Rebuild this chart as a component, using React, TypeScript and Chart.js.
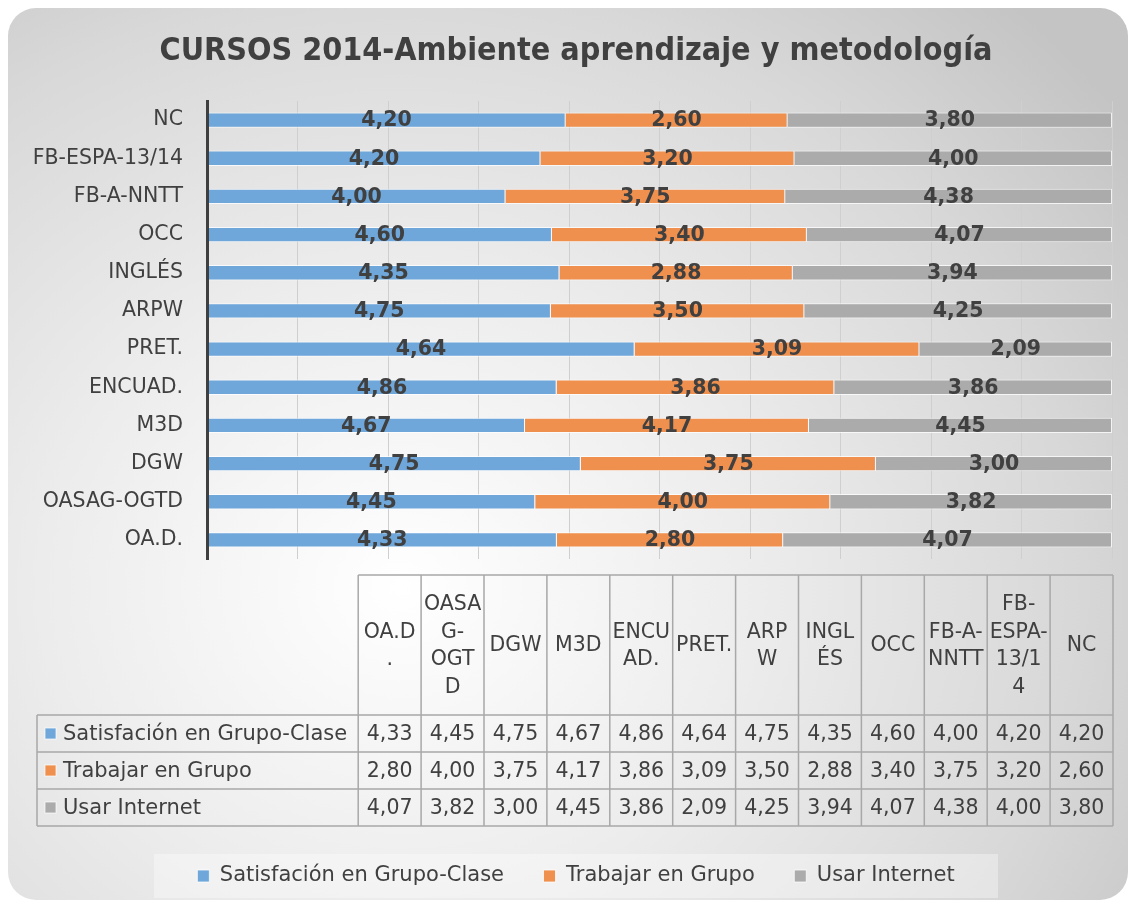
import React, { useEffect, useRef } from "react";
import { Chart, registerables } from "chart.js";

Chart.register(...registerables);

const categories = ["OA.D.", "OASAG-OGTD", "DGW", "M3D", "ENCUAD.", "PRET.", "ARPW", "INGLÉS", "OCC", "FB-A-NNTT", "FB-ESPA-13/14", "NC"];
const seriesNames = ["Satisfación en Grupo-Clase", "Trabajar en Grupo", "Usar Internet"];
const satisfaccion = [4.33, 4.45, 4.75, 4.67, 4.86, 4.64, 4.75, 4.35, 4.6, 4.0, 4.2, 4.2];
const trabajar = [2.8, 4.0, 3.75, 4.17, 3.86, 3.09, 3.5, 2.88, 3.4, 3.75, 3.2, 2.6];
const internet = [4.07, 3.82, 3.0, 4.45, 3.86, 2.09, 4.25, 3.94, 4.07, 4.38, 4.0, 3.8];
const seriesValues = [satisfaccion, trabajar, internet];
const seriesColors = ["#6FA7DB", "#F0904F", "#ABABAB"];
const titleText = "CURSOS 2014-Ambiente aprendizaje y metodología";

const TEXT = "#404040";
const fmt = (v: number) => v.toFixed(2).replace(".", ",");
const totals = categories.map((_, i) => seriesValues.reduce((s, arr) => s + arr[i], 0));

function wrapText(ctx: CanvasRenderingContext2D, text: string, maxW: number): string[] {
  const tokens = text.match(/[^-]+-?|-/g) || [text];
  const lines: string[] = [];
  let cur = "";
  const w = (s: string) => ctx.measureText(s).width;
  for (const tok of tokens) {
    if (w(cur + tok) <= maxW) {
      cur += tok;
      continue;
    }
    if (cur) {
      lines.push(cur);
      cur = "";
    }
    if (w(tok) <= maxW) {
      cur = tok;
      continue;
    }
    for (const ch of tok) {
      if (w(cur + ch) <= maxW) cur += ch;
      else {
        if (cur) lines.push(cur);
        cur = ch;
      }
    }
  }
  if (cur) lines.push(cur);
  return lines;
}

const legendBoxPlugin = {
  id: "legendBox",
  beforeDraw(chart: any) {
    const lg = chart.legend;
    if (!lg) return;
    const ctx = chart.ctx;
    const cx = (lg.left + lg.right) / 2;
    const cy = lg.top + lg.options.labels.padding + 10.5;
    ctx.save();
    ctx.fillStyle = "rgba(255,255,255,0.35)";
    ctx.fillRect(cx - 422, cy - 22, 844, 44);
    ctx.restore();
  },
};

const barLabelsPlugin = {
  id: "barLabels",
  afterDatasetsDraw(chart: any) {
    const ctx = chart.ctx;
    ctx.save();
    ctx.font = "bold 20.5px 'DejaVu Sans'";
    ctx.fillStyle = TEXT;
    ctx.textAlign = "center";
    ctx.textBaseline = "middle";
    chart.data.datasets.forEach((_: any, di: number) => {
      const meta = chart.getDatasetMeta(di);
      meta.data.forEach((bar: any, i: number) => {
        const p = bar.getProps(["x", "y", "base"], true);
        ctx.fillText(fmt(seriesValues[di][i]), (p.x + p.base) / 2, p.y + 1);
      });
    });
    ctx.restore();
  },
};

const tablePlugin = {
  id: "dataTable",
  afterDraw(chart: any) {
    const ctx: CanvasRenderingContext2D = chart.ctx;
    const area = chart.chartArea;
    const right = area.right + 1;
    const n = categories.length;
    const colW = 62.9;
    const headLeft = right - colW * n;
    const labelLeft = 29;
    const top = area.bottom + 16;
    const headH = 140;
    const rowH = 37;
    const rowsTop = top + headH;
    const bottom = rowsTop + rowH * seriesNames.length;

    ctx.save();
    ctx.strokeStyle = "#a8a8a8";
    ctx.lineWidth = 1.5;
    ctx.beginPath();
    ctx.moveTo(headLeft, top);
    ctx.lineTo(right, top);
    for (let r = 0; r <= seriesNames.length; r++) {
      ctx.moveTo(labelLeft, rowsTop + rowH * r);
      ctx.lineTo(right, rowsTop + rowH * r);
    }
    ctx.moveTo(labelLeft, rowsTop);
    ctx.lineTo(labelLeft, bottom);
    for (let c = 0; c <= n; c++) {
      ctx.moveTo(headLeft + colW * c, top);
      ctx.lineTo(headLeft + colW * c, bottom);
    }
    ctx.stroke();

    ctx.fillStyle = TEXT;
    ctx.textAlign = "center";
    ctx.textBaseline = "middle";
    ctx.font = "20.5px 'DejaVu Sans'";
    const lh = 27.5;
    categories.forEach((cat, c) => {
      const lines = wrapText(ctx, cat, 58.1);
      const cx = headLeft + colW * (c + 0.5);
      const cy = top + headH / 2;
      lines.forEach((ln, k) => {
        ctx.fillText(ln, cx, cy + (k - (lines.length - 1) / 2) * lh + 1);
      });
    });

    seriesNames.forEach((name, s) => {
      const cy = rowsTop + rowH * (s + 0.5);
      ctx.fillStyle = seriesColors[s];
      ctx.fillRect(labelLeft + 8, cy - 5.5, 11, 11);
      ctx.strokeStyle = "rgba(255,255,255,0.7)";
      ctx.lineWidth = 1;
      ctx.strokeRect(labelLeft + 8, cy - 5.5, 11, 11);
      ctx.fillStyle = TEXT;
      ctx.textAlign = "left";
      ctx.font = "21px 'DejaVu Sans'";
      ctx.fillText(name, labelLeft + 26, cy + 1);
      ctx.textAlign = "center";
      ctx.font = "20.5px 'DejaVu Sans'";
      seriesValues[s].forEach((v, c) => {
        ctx.fillText(fmt(v), headLeft + colW * (c + 0.5), cy + 1);
      });
    });
    ctx.restore();
  },
};

export default function App() {
  const ref = useRef<HTMLCanvasElement>(null);
  useEffect(() => {
    const chart = new Chart(ref.current as HTMLCanvasElement, {
      type: "bar",
      data: {
        labels: categories,
        datasets: seriesNames.map((name, s) => ({
          label: name,
          data: seriesValues[s].map((v, i) => (v / totals[i]) * 100),
          backgroundColor: seriesColors[s],
          borderColor: "rgba(255,255,255,0.75)",
          borderWidth: 1,
          barPercentage: 0.4,
          categoryPercentage: 1,
        })),
      },
      options: {
        indexAxis: "y",
        responsive: false,
        animation: false,
        layout: { padding: { top: 8, left: 32, right: 16, bottom: 3.5 } },
        plugins: {
          title: {
            display: true,
            text: titleText,
            color: TEXT,
            font: { family: "'DejaVu Sans Condensed', 'DejaVu Sans'", size: 32, weight: "bold" },
            padding: { top: 16, bottom: 30.6 },
          },
          legend: {
            position: "bottom",
            labels: {
              color: TEXT,
              font: { family: "'DejaVu Sans'", size: 21 },
              boxWidth: 12,
              boxHeight: 12,
              padding: 39.5,
            },
          },
          tooltip: { enabled: false },
        },
        scales: {
          x: {
            stacked: true,
            min: 0,
            max: 100,
            ticks: { display: false, stepSize: 10 },
            grid: { color: "#cfcfcf", lineWidth: 1, drawTicks: false },
            border: { display: false },
            afterFit: (s: any) => {
              s.height = 267;
            },
          },
          y: {
            stacked: true,
            reverse: true,
            grid: { display: false, drawTicks: false },
            border: { display: true, color: "#3f3f3f", width: 3, z: 1 },
            ticks: { color: TEXT, font: { family: "'DejaVu Sans'", size: 20.5 }, padding: 24 },
            afterFit: (s: any) => {
              s.width = 167;
              // let long category labels extend past the scale's left edge without clipping
              s._computeLabelArea = () => null;
            },
          },
        },
      },
      plugins: [legendBoxPlugin, barLabelsPlugin, tablePlugin],
    } as any);
    return () => chart.destroy();
  }, []);
  return (
    <div
      style={{
        width: 1120,
        height: 892,
        borderRadius: 28,
        overflow: "hidden",
        background:
          "radial-gradient(ellipse 80% 90% at 35% 65%, #ffffff 0%, #ececec 40%, #d8d8d8 75%, #c4c4c4 100%)",
      }}
    >
      <canvas ref={ref} width={1120} height={892} style={{ display: "block" }} />
    </div>
  );
}
